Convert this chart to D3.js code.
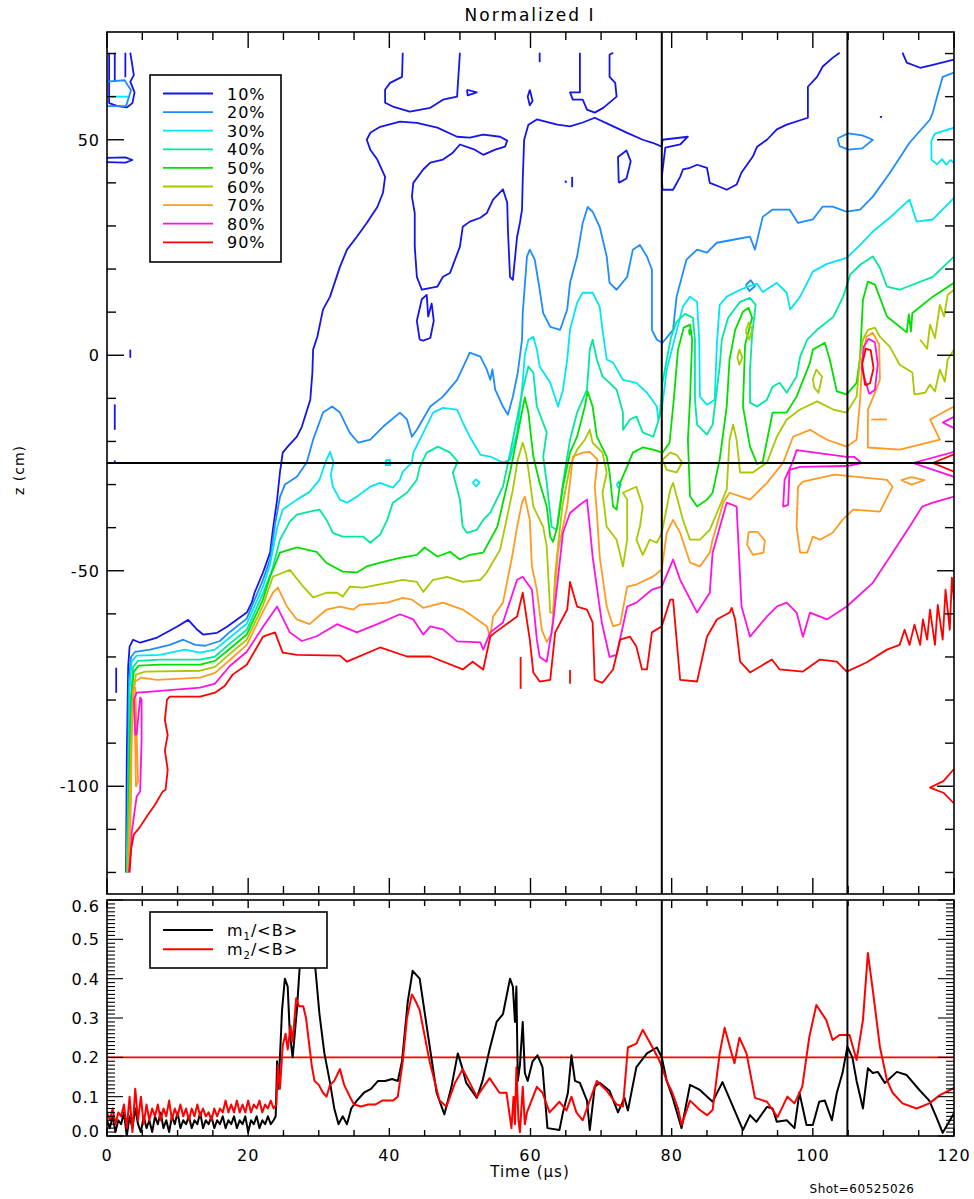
<!DOCTYPE html>
<html>
<head>
<meta charset="utf-8">
<script src="https://cdnjs.cloudflare.com/ajax/libs/d3/7.8.5/d3.min.js"></script>
<style>
body { margin: 0; background: #fff; }
text { font-family: "DejaVu Sans", sans-serif; fill: #000; }
</style>
</head>
<body>
<div id="chart"></div>
<script>
// ---- data ----
const levelLabels = ['10%', '20%', '30%', '40%', '50%', '60%', '70%', '80%', '90%']
const levelColors = ['#1414f0', '#1e8cff', '#00e6f5', '#00e89c', '#00e000', '#a8c800', '#ff9a22', '#ff12e0', '#ff0000']

const xTickLabels = [0, 20, 40, 60, 80, 100, 120]
const zTickLabels = [50, 0, -50, -100]
const mTickLabels = [0.0, 0.1, 0.2, 0.3, 0.4, 0.5, 0.6]

const markerTimes = [78.6, 104.9]   // vertical black lines (us)
const markerZ = -25                 // horizontal black line (cm)
const mThreshold = 0.2              // red line in lower panel

// contour polylines, [time (us), z (cm)]
const contour10 = [
  [[2.7,-120],[2.8,-93.9],[3.0,-72.3],[3.2,-67.6],[3.7,-66.0],[4.7,-66.7],[7.1,-65.5],[9.9,-63.0],[11.5,-61.4],[12.8,-63.7],[13.6,-64.8],[15.6,-64.4],[17.0,-63.0],[19.8,-59.7],[20.5,-57.4],[20.9,-55.1],[22.1,-50.4],[23.1,-45.8],[23.5,-40.5],[24.1,-33.5],[24.5,-27.2],[24.9,-22.6],[25.6,-21.2],[26.9,-18.9],[27.6,-16.6],[28.8,-10.3],[29.1,-4.0],[29.2,1.3],[29.8,4.3],[30.6,10.6],[31.6,13.6],[33.0,20.5],[34.0,24.5],[35.4,27.5],[36.8,30.7],[38.3,34.4],[39.1,37.7],[39.4,41.4],[38.3,45.4],[37.3,47.7],[36.8,50.0],[37.3,51.6],[38.7,53.0],[41.5,54.2],[43.9,53.9],[46.8,52.8],[49.6,50.7],[51.4,50.5],[53.3,51.2],[55.7,50.7],[56.7,49.8],[56.4,48.4],[55.0,47.7],[53.3,46.5],[52.1,47.7],[50.0,48.9],[49.0,47.0],[47.6,45.4],[45.8,44.7],[44.8,43.1],[43.4,40.0],[43.2,36.8],[43.6,33.0],[43.6,25.2],[43.9,18.2],[44.6,15.2],[46.8,15.9],[47.6,18.2],[48.6,19.1],[50.0,25.2],[50.4,29.8],[51.4,31.0],[52.9,31.9],[53.8,33.0],[54.7,36.1],[56.1,38.5],[56.7,35.4],[56.8,29.1],[57.1,18.2],[57.5,17.5],[58.1,27.5],[58.5,30.7],[58.8,33.8],[58.9,40.7],[59.1,50.0],[59.7,53.5],[60.9,54.7],[63.8,53.5],[65.6,53.1],[67.4,54.0],[69.1,55.1],[71.2,53.5],[73.7,51.6],[75.9,50.0],[77.3,49.3],[78.6,48.4],[78.7,50.0],[82.3,50.7],[81.2,48.9],[79.1,48.2],[78.6,41.4],[78.7,38.4],[80.2,38.4],[81.2,41.4],[81.6,43.1],[82.6,43.5],[83.6,44.2],[85.0,43.5],[85.4,40.0],[86.8,39.1],[87.8,38.4],[89.2,39.6],[89.9,42.4],[91.5,46.1],[92.1,48.4],[93.5,50.0],[94.9,52.4],[96.3,53.5],[99.3,55.1],[99.3,62.3],[100.6,64.6],[101.4,67.0],[102.8,69.0],[103.8,70.2]],
  [[41.9,70.2],[41.8,64.6],[40.1,63.2],[39.4,61.6],[39.4,58.6],[40.5,57.7],[42.9,56.5],[45.8,57.4],[47.6,59.3],[49.6,60.0],[50.0,70.2]],
  [[51.0,61.6],[52.4,61.0],[51.1,60.3],[51.0,61.6]],
  [[61.3,70.2],[61.3,68.0]],
  [[59.9,61.6],[60.3,59.0],[59.9,58.0],[59.6,60.0],[59.9,61.6]],
  [[67.0,70.2],[67.0,61.0],[65.6,61.0],[66.0,59.3],[67.4,59.3],[68.0,57.0],[69.1,56.3],[70.3,57.4],[72.2,60.0],[72.0,63.2],[71.2,64.6],[71.2,69.7],[71.7,70.2]],
  [[44.3,3.6],[43.9,8.0],[44.6,13.0],[45.3,14.0],[45.5,9.0],[46.0,12.0],[46.3,8.0],[45.8,4.0],[44.8,3.4],[44.3,3.6]],
  [[64.9,40.5],[65.1,40.0]],
  [[65.9,41.4],[65.9,39.0]],
  [[72.5,40.0],[72.4,46.0],[73.6,47.5],[74.2,45.0],[73.6,41.0],[72.5,40.0]],
  [[112.7,70.2],[113.3,67.9],[115.2,66.7],[117.0,67.4],[120,68.6]],
  [[109.5,55.3],[109.8,55.3]],
  [[0.3,70.2],[0.3,58.5],[1.5,57.8],[2.8,57.5],[3.6,58.5],[3.9,61.0],[3.3,63.5],[3.8,65.0],[3.3,70.2]],
  [[1.1,70.2],[1.1,63.5]],
  [[2.6,70.2],[2.6,64.5]],
  [[0,45.8],[2.6,45.9],[3.6,45.3],[2.6,44.7],[0,44.8]],
  [[1.3,-72.5],[1.3,-78.3]],
  [[1.1,-11.4],[1.1,-17.3]],
  [[3.3,1.3],[3.3,-0.6]],
  [[1.1,-24.4],[1.1,-25.2]]
]

const contour20 = [
  [[2.8,-120],[3.0,-93.9],[3.1,-75.3],[3.4,-70.0],[4.0,-68.8],[6.1,-68.3],[8.9,-67.2],[10.8,-66.0],[12.5,-67.2],[13.9,-67.4],[16.0,-66.3],[17.4,-64.2],[19.8,-61.1],[22.1,-52.1],[23.1,-47.4],[23.8,-39.3],[24.5,-32.9],[25.2,-30.0],[26.9,-28.2],[28.3,-24.9],[29.2,-19.6],[30.6,-13.3],[31.9,-11.9],[33.0,-13.3],[34.4,-18.0],[35.6,-20.3],[37.3,-19.6],[39.1,-16.6],[41.5,-13.3],[42.5,-14.9],[43.2,-18.9],[43.9,-17.3],[45.8,-11.9],[47.6,-9.6],[49.6,-5.7],[51.4,0.6],[52.9,-0.3],[53.8,-3.3],[54.3,-5.7],[54.6,-3.3],[55.0,-8.0],[56.1,-11.9],[56.8,-13.8],[57.5,-9.6],[58.2,-4.0],[58.8,3.6],[58.9,9.8],[59.5,22.9],[59.9,24.5],[60.6,22.2],[61.3,15.2],[61.8,9.8],[62.8,6.6],[64.2,5.9],[65.2,10.6],[65.6,16.8],[66.6,22.9],[67.4,30.7],[68.1,34.4],[68.8,33.3],[69.8,29.8],[70.8,22.9],[71.2,16.8],[72.2,15.2],[73.7,18.2],[74.5,24.5],[75.5,25.6],[76.5,22.9],[77.2,19.9],[77.2,5.9],[77.9,3.6],[78.7,2.9],[80.2,5.9],[80.7,13.6],[82.1,22.2],[83.6,24.5],[85.0,23.8],[86.4,26.1],[88.7,26.8],[91.1,27.5],[91.8,24.5],[92.9,32.1],[94.3,33.8],[96.7,33.8],[97.9,30.7],[100.0,31.5],[101.4,34.5],[102.8,34.5],[104.8,33.3],[106.7,33.8],[108.5,36.8],[110.9,42.3],[113.7,49.3],[116.6,54.7],[117.0,56.3],[117.6,60.0],[118.4,64.6],[120,65.6]],
  [[0,63.5],[2.5,63.8],[3.4,61.5],[2.7,57.8],[0,57.8]],
  [[103.5,50.3],[105.0,51.5],[107.0,51.0],[108.5,50.0],[107.0,48.0],[105.0,47.7],[103.8,48.5],[103.5,50.3]],
  [[90.5,16.3],[91.2,17.4],[91.8,16.0],[91.0,14.9],[90.5,16.3]]
]

const contour30 = [
  [[2.8,-120],[3.1,-93.9],[3.2,-77.6],[3.5,-71.1],[4.2,-69.7],[7.5,-69.5],[11.0,-68.3],[13.2,-69.0],[15.3,-68.3],[17.4,-65.5],[19.8,-62.3],[22.1,-53.7],[23.1,-48.6],[24.1,-40.0],[24.9,-35.8],[26.9,-33.5],[28.7,-31.7],[30.1,-28.9],[31.1,-24.2],[31.6,-22.4],[32.1,-24.9],[31.7,-27.7],[32.0,-30.5],[33.0,-33.5],[34.0,-34.2],[35.4,-32.8],[37.3,-30.5],[38.7,-29.6],[40.5,-30.7],[41.5,-28.9],[41.9,-27.0],[43.2,-24.9],[43.4,-22.6],[44.8,-18.0],[46.2,-13.3],[47.6,-12.2],[49.6,-12.6],[50.4,-15.6],[51.4,-18.9],[52.9,-23.1],[54.3,-23.5],[56.1,-24.9],[57.1,-24.2],[58.1,-17.9],[58.8,-8.0],[59.2,0.1],[59.7,3.6],[60.4,4.3],[60.9,1.3],[61.3,-2.6],[62.8,-6.4],[63.9,-11.9],[64.6,-8.0],[65.2,-1.0],[65.6,5.9],[66.6,12.2],[67.4,14.5],[68.8,14.5],[69.8,11.3],[70.2,5.9],[70.8,-1.0],[71.7,-1.7],[73.1,-5.7],[75.0,-6.4],[76.5,-8.7],[77.9,-11.9],[78.1,-14.9],[78.6,-12.6],[79.3,-3.3],[80.2,2.4],[81.6,11.3],[82.6,13.6],[83.6,12.4],[83.9,3.6],[84.0,-9.6],[85.0,-11.5],[86.1,-10.3],[86.4,2.4],[86.8,11.7],[87.8,13.6],[89.7,15.2],[91.1,16.1],[92.1,16.6],[92.9,14.7],[94.9,16.8],[96.3,14.5],[96.8,10.6],[98.2,13.6],[100.0,19.4],[102.0,21.2],[104.8,22.6],[106.7,25.6],[108.5,28.7],[110.9,31.9],[113.7,36.1],[114.7,31.0],[117.0,31.5],[120,36.5]],
  [[120,52.8],[117.3,51.4],[116.8,49.8],[116.8,45.4],[117.6,44.3],[118.3,45.5],[118.9,44.2],[119.5,45.3],[120,44.6]],
  [[0,60.0],[3.0,60.0]],
  [[51.8,-29.5],[52.3,-28.8],[52.8,-29.5],[52.3,-30.4],[51.8,-29.5]],
  [[39.5,-24.3],[40.1,-24.3],[40.1,-25.5],[39.5,-25.5],[39.5,-24.3]],
  [[72.2,-30.0],[72.5,-29.3],[72.8,-30.0],[72.5,-30.8],[72.2,-30.0]]
]

const contour40 = [
  [[2.9,-120],[3.1,-93.9],[3.4,-79.9],[3.7,-72.3],[4.4,-70.9],[7.5,-70.6],[13.2,-70.6],[15.3,-69.9],[17.4,-66.9],[19.8,-63.7],[22.1,-55.3],[23.4,-49.8],[24.5,-42.8],[25.9,-38.6],[26.9,-37.0],[28.7,-36.3],[30.1,-35.8],[31.1,-38.2],[32.0,-41.2],[33.4,-42.1],[36.3,-42.1],[37.3,-43.5],[38.7,-41.6],[39.7,-38.2],[40.5,-34.2],[42.5,-31.9],[43.9,-28.9],[44.3,-25.9],[45.3,-22.6],[46.9,-21.2],[48.6,-22.6],[49.7,-24.7],[49.0,-27.2],[50.0,-33.5],[50.4,-39.8],[51.0,-41.2],[52.4,-40.5],[53.3,-38.2],[54.3,-36.5],[56.1,-30.5],[57.5,-19.6],[58.9,-8.0],[59.7,-2.6],[60.4,-4.0],[60.9,-11.9],[62.3,-17.9],[61.8,-23.5],[62.3,-29.6],[63.0,-39.8],[63.7,-40.5],[64.6,-29.6],[65.6,-19.6],[66.6,-13.3],[68.0,-8.0],[68.4,1.3],[68.8,3.6],[69.4,-1.0],[70.2,-4.9],[71.2,-6.4],[72.2,-8.0],[73.1,-13.3],[73.1,-17.3],[74.1,-14.9],[75.0,-14.2],[75.9,-17.9],[77.4,-18.9],[78.3,-14.2],[78.7,-6.4],[79.3,-1.0],[79.9,4.1],[80.7,7.8],[81.9,9.6],[83.0,8.7],[83.3,3.6],[83.3,-10.3],[83.6,-16.1],[85.0,-18.4],[85.8,-16.1],[86.4,-8.0],[86.8,-2.6],[87.1,3.6],[88.0,8.7],[89.7,12.4],[91.1,13.3],[91.9,11.7],[91.4,4.8],[91.1,-3.3],[91.1,-11.0],[92.1,-11.9],[93.5,-10.3],[94.3,-7.3],[95.3,-6.4],[96.3,-8.7],[97.7,-4.9],[98.2,-0.3],[99.2,3.6],[100.6,5.9],[102.9,8.9],[104.3,13.6],[105.3,18.7],[106.7,21.0],[108.5,22.9],[109.5,20.3],[110.5,15.9],[112.3,15.2],[117.0,18.2],[120,22.9]]
]

const contour50 = [
  [[2.9,-120],[3.2,-93.9],[3.4,-79.9],[3.8,-73.4],[4.5,-72.0],[7.5,-71.8],[13.2,-71.8],[15.3,-70.9],[17.4,-68.1],[19.8,-64.8],[22.1,-56.7],[23.1,-51.4],[24.5,-45.8],[26.9,-44.6],[29.7,-45.6],[31.1,-48.2],[33.4,-50.2],[35.4,-50.4],[36.8,-49.0],[38.7,-48.1],[41.5,-47.0],[43.9,-46.3],[45.0,-44.6],[46.8,-46.7],[48.6,-45.6],[50.0,-47.4],[51.4,-46.3],[53.3,-45.8],[55.3,-39.8],[57.1,-27.2],[58.5,-15.6],[59.2,-9.8],[59.7,-13.3],[60.4,-23.5],[61.3,-29.6],[62.3,-35.1],[62.8,-42.1],[63.2,-43.3],[63.8,-39.8],[64.6,-30.5],[65.6,-22.6],[66.6,-18.9],[67.7,-11.9],[68.1,-8.4],[68.8,-11.9],[69.4,-18.9],[70.8,-23.5],[71.2,-27.2],[71.7,-35.1],[72.2,-35.8],[72.7,-29.6],[73.7,-25.8],[74.5,-22.6],[75.9,-21.4],[77.4,-21.9],[78.7,-22.6],[79.7,-20.3],[80.3,-10.3],[80.9,1.3],[81.7,6.4],[82.6,7.1],[82.9,3.6],[82.6,-10.3],[82.3,-19.6],[82.6,-32.7],[83.6,-35.1],[85.0,-33.5],[85.8,-31.9],[86.8,-24.2],[87.8,-11.9],[88.2,-1.0],[89.0,5.9],[90.1,10.1],[90.9,11.0],[91.4,8.7],[90.4,2.4],[90.1,-11.9],[91.1,-21.2],[92.1,-25.2],[92.9,-24.7],[93.9,-16.6],[94.3,-13.3],[96.3,-13.3],[97.7,-9.6],[99.6,-1.7],[100.0,1.3],[101.7,2.9],[102.4,-1.0],[103.4,-8.4],[104.8,-9.1],[106.2,-6.4],[106.7,-0.3],[107.1,12.9],[107.8,17.1],[108.8,16.4],[110.5,9.0],[113.3,5.3],[113.6,9.5],[113.9,5.5],[114.1,9.8],[117.0,13.6],[120,16.8]],
  [[82.4,5.6],[82.6,6.0],[82.8,5.4],[82.6,4.8],[82.4,5.6]]
]

const contour60 = [
  [[2.9,-120],[3.2,-103.1],[3.5,-86.9],[3.8,-77.6],[4.1,-74.1],[5.4,-73.4],[13.2,-73.2],[15.3,-72.3],[17.4,-69.3],[19.8,-66.0],[22.1,-58.1],[23.5,-51.4],[25.9,-49.8],[27.8,-53.7],[29.2,-56.2],[31.1,-55.1],[32.6,-55.1],[33.4,-56.0],[34.4,-53.7],[36.3,-53.9],[39.7,-52.8],[41.9,-52.1],[43.9,-52.6],[44.8,-54.9],[46.2,-52.1],[48.2,-51.4],[50.4,-52.6],[52.9,-52.1],[53.8,-50.4],[55.7,-45.1],[57.5,-31.2],[58.2,-24.2],[58.9,-20.3],[59.4,-23.1],[59.9,-28.9],[60.4,-35.1],[61.8,-39.8],[62.3,-44.4],[62.8,-59.7],[63.2,-59.7],[63.5,-50.4],[64.5,-35.1],[65.6,-25.8],[66.6,-21.9],[67.7,-19.6],[68.4,-17.3],[68.8,-20.3],[70.2,-22.6],[70.8,-27.2],[70.2,-31.9],[70.8,-39.8],[72.2,-42.8],[73.1,-49.0],[73.7,-42.8],[73.7,-33.5],[73.1,-31.9],[75.0,-30.5],[75.9,-35.1],[75.5,-39.8],[75.0,-42.8],[75.9,-46.3],[76.9,-42.8],[77.9,-43.5],[78.6,-41.2],[79.8,-31.2],[80.2,-29.6],[81.6,-38.2],[82.6,-42.8],[84.0,-42.8],[85.4,-40.5],[86.4,-36.6],[87.8,-31.2],[88.2,-19.6],[88.7,-16.1],[89.2,-19.6],[89.7,-27.2],[91.5,-27.2],[93.5,-24.9],[94.9,-18.9],[96.3,-14.9],[98.2,-12.6],[100.6,-10.7],[102.9,-12.6],[104.8,-13.3],[106.2,-9.6],[106.7,-0.3],[107.1,3.6],[107.8,5.9],[108.8,6.4],[109.5,4.3],[110.9,2.0],[112.3,-2.2],[114.1,-4.0],[114.4,-9.1],[115.9,-8.7],[116.6,-6.8],[117.3,-8.4],[118.0,-3.3],[118.7,-6.1],[119.1,-1.0],[120,1.3]],
  [[115.2,3.6],[116.2,1.5],[116.6,7.1],[117.3,4.0],[118.0,11.7],[118.6,9.0],[119.1,14.0],[120,15.2]],
  [[78.7,-24.2],[79.8,-22.6],[80.7,-23.1],[81.5,-24.9],[80.7,-27.2],[79.3,-26.6],[78.7,-24.2]],
  [[90.5,5.5],[90.9,7.6],[91.4,6.0],[91.0,3.6],[90.5,5.5]],
  [[89.3,-0.5],[89.6,1.3],[90.0,-0.5],[89.6,-2.2],[89.3,-0.5]],
  [[100.0,-5.5],[100.5,-3.3],[101.3,-5.0],[100.8,-8.7],[100.2,-7.5],[100.0,-5.5]]
]

const contour70 = [
  [[3.1,-120],[3.4,-103.1],[3.5,-89.2],[3.7,-77.6],[4.0,-75.7],[4.8,-74.8],[7.1,-75.3],[13.2,-74.8],[15.3,-73.7],[17.4,-70.7],[19.8,-67.2],[22.1,-59.5],[23.5,-55.1],[24.2,-53.9],[25.5,-58.3],[26.9,-61.3],[28.7,-62.4],[31.1,-59.0],[33.0,-58.3],[34.9,-59.0],[35.8,-57.9],[39.7,-57.4],[41.9,-56.3],[43.2,-56.7],[44.8,-58.6],[47.6,-57.4],[50.4,-59.0],[51.4,-60.1],[53.8,-62.9],[54.3,-65.3],[54.7,-60.6],[56.1,-57.4],[57.4,-46.7],[58.1,-39.8],[58.8,-34.2],[59.2,-32.8],[59.9,-38.2],[60.2,-49.0],[60.9,-54.4],[61.6,-63.7],[62.3,-66.5],[63.0,-64.6],[63.9,-45.4],[65.2,-35.1],[66.0,-23.5],[67.4,-22.6],[68.4,-22.4],[69.5,-24.2],[69.1,-30.5],[69.4,-36.5],[69.8,-46.7],[70.8,-58.3],[71.7,-62.9],[72.7,-62.4],[73.7,-53.7],[75.0,-53.2],[77.4,-51.3],[78.6,-49.7],[79.3,-41.2],[80.2,-38.2],[81.2,-41.2],[82.6,-48.1],[84.0,-49.0],[85.4,-45.8],[85.8,-42.8],[87.3,-34.2],[88.2,-31.9],[91.1,-33.5],[93.5,-29.6],[95.8,-24.9],[97.2,-18.9],[99.6,-17.3],[102.0,-19.6],[104.8,-21.2],[106.2,-19.6],[106.7,-10.3],[107.0,-1.0],[107.6,4.3],[108.5,5.2],[109.4,2.5],[109.5,-5.7],[108.4,-10.3],[107.8,-12.6],[107.8,-21.4],[112.3,-21.9],[118.0,-19.6],[116.6,-14.9],[120,-11.9]],
  [[98.6,-29.3],[103.1,-27.7],[110.5,-28.9],[111.3,-30.5],[109.5,-36.3],[105.7,-35.8],[104.2,-38.2],[102.8,-41.2],[101.0,-42.8],[100.0,-42.1],[99.2,-45.8],[98.2,-45.8],[97.7,-39.8],[97.9,-30.5],[98.6,-29.3]],
  [[112.5,-29.0],[114.0,-28.3],[115.8,-29.0],[114.0,-30.0],[112.5,-29.0]],
  [[90.9,-41.0],[90.7,-44.0],[91.5,-46.3],[93.0,-45.8],[93.2,-43.0],[92.2,-41.0],[90.9,-41.0]],
  [[108.3,-14.9],[110.5,-14.9]],
  [[4.0,-77.0],[4.4,-99.0],[4.1,-100.0],[3.9,-80.0]]
]

const contour80 = [
  [[3.1,-120],[3.4,-114.7],[3.5,-110.7],[4.2,-102.4],[4.7,-101.2],[4.9,-89.2],[4.9,-79.9],[4.7,-79.4],[4.2,-88.0],[4.0,-88.0],[3.8,-79.9],[4.2,-78.3],[5.8,-78.1],[13.2,-77.1],[15.3,-76.2],[17.4,-72.1],[19.8,-68.8],[22.1,-63.0],[24.1,-58.3],[25.9,-64.3],[27.6,-66.3],[29.7,-65.2],[32.6,-62.4],[35.4,-64.3],[38.3,-62.4],[41.5,-60.1],[43.4,-61.3],[44.8,-64.8],[45.8,-62.9],[47.6,-63.6],[49.6,-66.4],[52.9,-66.6],[53.3,-68.3],[54.3,-64.3],[56.1,-62.0],[58.1,-52.1],[58.9,-51.4],[60.2,-54.4],[60.9,-66.0],[61.3,-70.0],[62.3,-71.1],[63.2,-62.0],[64.6,-41.2],[65.6,-36.6],[67.0,-34.7],[68.0,-33.5],[68.4,-39.8],[68.8,-46.7],[70.1,-62.0],[71.2,-70.0],[72.2,-69.5],[73.7,-58.3],[75.0,-57.4],[77.2,-54.4],[78.6,-53.7],[80.2,-47.4],[81.2,-52.1],[83.6,-59.7],[85.4,-55.1],[85.8,-45.8],[87.8,-34.2],[89.2,-35.1],[89.9,-58.3],[91.1,-65.3],[93.5,-60.6],[94.9,-58.3],[96.3,-57.4],[97.7,-59.7],[98.6,-65.3],[99.6,-59.7],[102.0,-61.3],[104.8,-58.3],[108.5,-52.8],[111.3,-45.8],[113.7,-39.8],[115.5,-35.1],[117.0,-34.2],[120,-32.8]],
  [[104.8,-23.6],[97.7,-22.0],[97.2,-24.5],[96.0,-28.9],[95.8,-35.1],[96.5,-34.7],[96.7,-26.6],[98.2,-25.9],[104.8,-25.7],[106.9,-25.0],[105.9,-23.6],[104.8,-23.6]],
  [[120,-22.4],[114.2,-25.0],[120,-28.2]],
  [[120,-14.3],[118.4,-15.6],[120,-16.9]],
  [[108.0,-9.0],[106.9,-3.0],[107.2,2.0],[107.9,3.8],[108.8,3.0],[109.2,-2.0],[108.8,-8.0],[108.0,-9.0]]
]

const contour90 = [
  [[3.2,-120],[3.4,-114.7],[3.8,-111.2],[4.6,-109.6],[5.8,-106.6],[6.8,-104.3],[7.9,-101.2],[8.3,-100.8],[8.6,-96.2],[8.2,-91.6],[8.6,-88.1],[8.2,-84.6],[8.5,-79.9],[8.9,-79.2],[13.2,-79.2],[15.3,-78.3],[16.7,-76.7],[17.8,-74.1],[19.8,-71.8],[22.1,-65.3],[23.8,-64.3],[24.9,-69.0],[26.9,-69.5],[33.0,-69.7],[34.0,-71.1],[38.7,-67.8],[42.5,-69.9],[45.8,-69.9],[50.4,-72.9],[51.8,-71.1],[53.3,-72.9],[54.3,-65.3],[55.0,-64.3],[58.1,-60.6],[58.9,-55.1],[59.9,-66.0],[60.4,-73.6],[61.3,-75.7],[62.8,-75.3],[63.5,-64.3],[65.2,-59.0],[65.6,-52.6],[66.6,-58.3],[68.0,-59.0],[68.8,-62.0],[69.1,-75.3],[70.2,-76.0],[71.7,-72.9],[72.7,-66.0],[74.1,-65.3],[75.0,-67.6],[75.8,-72.9],[76.5,-72.9],[77.2,-64.3],[78.6,-62.9],[79.8,-56.7],[80.2,-56.7],[81.2,-75.3],[83.6,-75.7],[85.0,-65.3],[86.4,-61.3],[88.2,-59.7],[88.5,-58.6],[89.0,-61.3],[89.7,-71.1],[91.1,-73.6],[94.2,-70.6],[95.3,-72.9],[98.6,-73.4],[101.0,-70.6],[103.4,-71.1],[104.8,-73.4],[107.6,-71.3],[110.5,-68.3],[112.3,-67.2],[113.0,-63.7],[113.7,-67.2],[114.4,-62.5],[115.2,-67.2],[115.6,-61.3],[116.2,-66.0],[116.6,-59.0],[117.3,-67.2],[117.7,-57.9],[118.4,-66.0],[118.8,-54.4],[119.4,-63.7],[119.7,-51.6],[120,-56.7]],
  [[58.6,-70.0],[58.6,-77.4]],
  [[65.6,-73.0],[65.6,-76.2]],
  [[120,-96.0],[118.5,-98.8],[116.6,-100.3],[118.5,-101.5],[120,-104.0]],
  [[120,-23.0],[117.0,-25.0],[120,-27.0]],
  [[107.4,-7.0],[107.0,-2.0],[107.5,1.5],[108.2,1.2],[108.6,-3.0],[108.1,-6.5],[107.4,-7.0]]
]

// lower panel series, [time (us), value]
const m1Series = [[0,0.04],[0.4,0.02],[0.8,0.05],[1.2,0.01],[1.6,0.04],[2.0,0.03],[2.4,0.06],[2.8,0.0],[3.2,0.05],[3.6,0.02],[4.0,0.07],[4.4,0.03],[4.8,0.01],[5.2,0.05],[5.6,0.02],[6.0,0.04],[6.4,0.01],[6.8,0.05],[7.2,0.03],[7.6,0.06],[8.0,0.02],[8.4,0.04],[8.8,0.01],[9.2,0.05],[9.6,0.03],[10.0,0.06],[10.4,0.02],[10.8,0.04],[11.2,0.03],[11.6,0.05],[12.0,0.02],[12.4,0.04],[12.8,0.03],[13.2,0.06],[13.6,0.02],[14.0,0.04],[14.4,0.03],[14.8,0.05],[15.2,0.02],[15.6,0.04],[16.0,0.03],[16.4,0.05],[16.8,0.02],[17.2,0.04],[17.6,0.03],[18.0,0.05],[18.4,0.02],[18.8,0.04],[19.2,0.03],[19.6,0.05],[20.0,0.01],[20.4,0.04],[20.8,0.03],[21.2,0.05],[21.6,0.02],[22.0,0.04],[22.4,0.03],[22.8,0.05],[23.2,0.03],[23.6,0.04],
  [23.9,0.05],[24.1,0.19],[24.3,0.12],[24.8,0.32],[25.2,0.40],[25.6,0.38],[25.9,0.26],[26.3,0.20],[26.9,0.32],[27.3,0.43],[27.8,0.46],[28.6,0.47],[29.4,0.45],[30.1,0.31],[30.8,0.21],[31.6,0.135],[32.2,0.07],[32.8,0.03],[33.4,0.05],[34.0,0.03],[34.6,0.07],[35.4,0.09],[36.4,0.11],[37.4,0.12],[38.4,0.14],[39.4,0.14],[40.4,0.145],[41.2,0.14],[41.8,0.19],[42.6,0.34],[43.3,0.42],[44.3,0.40],[45.7,0.23],[46.7,0.11],[47.8,0.055],[48.8,0.125],[49.7,0.21],[50.3,0.175],[50.9,0.135],[52.4,0.097],[53.2,0.14],[54.2,0.22],[55.2,0.29],[56.1,0.31],[57.1,0.40],[57.5,0.38],[57.8,0.29],[58.0,0.38],[58.2,0.14],[58.5,0.18],[58.9,0.29],[59.2,0.16],[59.6,0.14],[60.3,0.19],[61.0,0.205],[61.7,0.175],[62.4,0.02],[64.1,0.015],[64.6,0.06],[65.3,0.11],[65.8,0.205],[66.3,0.14],[67.0,0.135],[68.0,0.09],[68.4,0.015],[69.1,0.125],[69.8,0.135],[71.2,0.115],[72.4,0.06],[73.3,0.097],[73.8,0.065],[75.0,0.175],[76.5,0.21],[77.9,0.225],[78.6,0.2],[79.3,0.14],[80.1,0.10],[81.4,0.02],[82.6,0.13],[84.0,0.117],[85.8,0.087],[87.2,0.137],[89.2,0.053],[90.1,0.015],[91.1,0.053],[92.0,0.036],[93.5,0.074],[94.3,0.07],[94.9,0.036],[96.3,0.04],[97.4,0.02],[98.1,0.11],[99.1,0.028],[100.0,0.028],[100.9,0.087],[101.7,0.09],[102.7,0.04],[103.4,0.11],[104.2,0.16],[104.9,0.227],[105.6,0.2],[106.2,0.14],[107.1,0.07],[107.8,0.172],[108.5,0.16],[109.2,0.163],[110.2,0.135],[111.9,0.163],[113.3,0.155],[115.1,0.117],[116.5,0.09],[117.5,0.048],[118.4,0.008],[120,0.058]]

const m2Series = [[0,0.06],[0.4,0.04],[0.8,0.07],[1.2,0.03],[1.6,0.06],[2.0,0.05],[2.4,0.08],[2.8,0.02],[3.2,0.10],[3.6,0.01],[4.0,0.12],[4.4,0.04],[4.8,0.10],[5.2,0.03],[5.6,0.08],[6.0,0.04],[6.4,0.07],[6.8,0.05],[7.2,0.08],[7.6,0.04],[8.0,0.07],[8.4,0.05],[8.8,0.09],[9.2,0.04],[9.6,0.07],[10.0,0.05],[10.4,0.08],[10.8,0.05],[11.2,0.07],[11.6,0.04],[12.0,0.07],[12.4,0.05],[12.8,0.08],[13.2,0.05],[13.6,0.07],[14.0,0.05],[14.4,0.06],[14.8,0.04],[15.2,0.07],[15.6,0.05],[16.0,0.07],[16.4,0.06],[16.8,0.09],[17.2,0.06],[17.6,0.08],[18.0,0.06],[18.4,0.09],[18.8,0.06],[19.2,0.08],[19.6,0.06],[20.0,0.09],[20.4,0.06],[20.8,0.08],[21.2,0.07],[21.6,0.09],[22.0,0.06],[22.4,0.08],[22.8,0.07],[23.2,0.09],[23.6,0.07],
  [24.0,0.08],[24.2,0.18],[24.5,0.12],[24.9,0.23],[25.3,0.26],[25.6,0.22],[26.0,0.28],[26.3,0.24],[26.8,0.35],[27.2,0.33],[27.8,0.33],[28.2,0.30],[28.6,0.24],[29.0,0.18],[29.4,0.14],[30.0,0.13],[30.6,0.11],[31.1,0.10],[31.6,0.13],[32.2,0.14],[33.0,0.17],[33.6,0.13],[34.4,0.10],[35.0,0.08],[36.0,0.075],[37.0,0.08],[38.0,0.08],[39.0,0.09],[40.5,0.09],[41.2,0.10],[41.9,0.19],[42.5,0.30],[43.2,0.36],[43.8,0.34],[44.3,0.32],[45.7,0.19],[47.1,0.09],[48.1,0.075],[49.3,0.135],[50.4,0.17],[51.4,0.135],[52.4,0.10],[54.2,0.147],[55.6,0.11],[56.6,0.11],[57.3,0.02],[57.6,0.10],[57.8,0.03],[58.0,0.175],[58.3,0.04],[58.5,0.01],[58.9,0.125],[59.2,0.03],[59.5,0.06],[60.9,0.125],[61.7,0.11],[62.7,0.06],[64.1,0.087],[65.1,0.065],[65.8,0.10],[66.5,0.06],[67.4,0.04],[69.4,0.14],[70.8,0.115],[72.2,0.08],[73.1,0.075],[73.8,0.225],[75.0,0.235],[75.9,0.27],[77.3,0.225],[78.3,0.19],[79.3,0.14],[80.1,0.11],[80.9,0.07],[81.4,0.028],[82.6,0.09],[84.0,0.066],[85.0,0.053],[85.8,0.066],[86.8,0.21],[87.5,0.275],[88.5,0.21],[88.9,0.185],[89.6,0.25],[90.6,0.21],[91.8,0.097],[93.5,0.087],[95.0,0.048],[96.4,0.10],[97.4,0.083],[98.5,0.125],[99.5,0.252],[100.5,0.333],[101.9,0.295],[102.8,0.244],[103.8,0.257],[105.2,0.257],[106.2,0.193],[107.1,0.295],[107.8,0.465],[108.5,0.37],[109.5,0.227],[110.5,0.142],[111.3,0.11],[112.7,0.083],[114.7,0.07],[116.5,0.083],[118.0,0.104],[120,0.122]]

// ---- drawing ----
const W = 974, H = 1199
const svg = d3.select('#chart').append('svg').attr('width', W).attr('height', H)

const x = d3.scaleLinear().domain([0, 120]).range([107, 954])
const y = d3.scaleLinear().domain([-125, 75]).range([894, 32])
const y2 = d3.scaleLinear().domain([0, 0.6]).range([1136, 900])

const defs = svg.append('defs')
defs.append('clipPath').attr('id', 'clipTop').append('rect')
  .attr('x', 107).attr('y', 32).attr('width', 847).attr('height', 862)
defs.append('clipPath').attr('id', 'clipBot').append('rect')
  .attr('x', 107).attr('y', 900).attr('width', 847).attr('height', 236)

const lineTop = d3.line().x(d => x(d[0])).y(d => y(d[1]))
const lineBot = d3.line().x(d => x(d[0])).y(d => y2(d[1]))

// top panel contours
let gTop = svg.append('g').attr('clip-path', 'url(#clipTop)')
const contourSets = [contour10, contour20, contour30, contour40, contour50, contour60, contour70, contour80, contour90]
contourSets.forEach(function(set, i) {
  set.forEach(function(pts) {
    gTop.append('path')
      .attr('d', lineTop(pts))
      .attr('fill', 'none')
      .attr('stroke', levelColors[i])
      .attr('stroke-width', 1.8)
      .attr('stroke-linejoin', 'round')
  })
})

// marker lines top
markerTimes.forEach(function(t) {
  gTop.append('line').attr('x1', x(t)).attr('x2', x(t)).attr('y1', 32).attr('y2', 894)
    .attr('stroke', '#000').attr('stroke-width', 2)
})
gTop.append('line').attr('x1', 107).attr('x2', 954).attr('y1', y(markerZ)).attr('y2', y(markerZ))
  .attr('stroke', '#000').attr('stroke-width', 2)

// bottom panel series
let gBot = svg.append('g').attr('clip-path', 'url(#clipBot)')
gBot.append('line').attr('x1', 107).attr('x2', 954).attr('y1', y2(mThreshold)).attr('y2', y2(mThreshold))
  .attr('stroke', '#ff0000').attr('stroke-width', 1.6)
gBot.append('path').attr('d', lineBot(m1Series)).attr('fill', 'none')
  .attr('stroke', '#000').attr('stroke-width', 2).attr('stroke-linejoin', 'round')
gBot.append('path').attr('d', lineBot(m2Series)).attr('fill', 'none')
  .attr('stroke', '#ff0000').attr('stroke-width', 2).attr('stroke-linejoin', 'round')
markerTimes.forEach(function(t) {
  gBot.append('line').attr('x1', x(t)).attr('x2', x(t)).attr('y1', 900).attr('y2', 1136)
    .attr('stroke', '#000').attr('stroke-width', 2)
})

// frames
svg.append('rect').attr('x', 107).attr('y', 32).attr('width', 847).attr('height', 862)
  .attr('fill', 'none').attr('stroke', '#000').attr('stroke-width', 1.6)
svg.append('rect').attr('x', 107).attr('y', 900).attr('width', 847).attr('height', 236)
  .attr('fill', 'none').attr('stroke', '#000').attr('stroke-width', 1.6)

// ticks
let gTicks = svg.append('g').attr('stroke', '#000').attr('stroke-width', 1.4)
d3.range(0, 121, 5).forEach(function(t) {
  let major = t % 20 === 0
  let L = major ? 16 : 8
  gTicks.append('line').attr('x1', x(t)).attr('x2', x(t)).attr('y1', 894).attr('y2', 894 - L)
  gTicks.append('line').attr('x1', x(t)).attr('x2', x(t)).attr('y1', 32).attr('y2', 32 + L)
  let L2 = major ? 8 : 6
  gTicks.append('line').attr('x1', x(t)).attr('x2', x(t)).attr('y1', 1136).attr('y2', 1136 - L2)
  gTicks.append('line').attr('x1', x(t)).attr('x2', x(t)).attr('y1', 900).attr('y2', 900 + L2)
})
d3.range(-120, 71, 10).forEach(function(z) {
  let L = z % 50 === 0 ? 17 : 9
  gTicks.append('line').attr('x1', 107).attr('x2', 107 + L).attr('y1', y(z)).attr('y2', y(z))
  gTicks.append('line').attr('x1', 954).attr('x2', 954 - L).attr('y1', y(z)).attr('y2', y(z))
})
d3.range(0, 61, 1).forEach(function(k) {
  let L = k % 10 === 0 ? 16 : 8
  let v = k / 100
  gTicks.append('line').attr('x1', 107).attr('x2', 107 + L).attr('y1', y2(v)).attr('y2', y2(v)).attr('stroke-width', 1.1)
  gTicks.append('line').attr('x1', 954).attr('x2', 954 - L).attr('y1', y2(v)).attr('y2', y2(v)).attr('stroke-width', 1.1)
})

// tick labels
xTickLabels.forEach(function(t) {
  svg.append('text').attr('x', x(t)).attr('y', 1161).attr('text-anchor', 'middle')
    .attr('font-size', 16).attr('letter-spacing', 1).text(t)
})
zTickLabels.forEach(function(z) {
  svg.append('text').attr('x', 100).attr('y', y(z) + 6).attr('text-anchor', 'end')
    .attr('font-size', 16).attr('letter-spacing', 1).text(z)
})
mTickLabels.forEach(function(v) {
  let off = 6
  if (v === 0) off = 1
  if (v === 0.6) off = 12
  svg.append('text').attr('x', 100).attr('y', y2(v) + off).attr('text-anchor', 'end')
    .attr('font-size', 16).attr('letter-spacing', 1).text(v.toFixed(1))
})

// titles
svg.append('text').attr('x', 530).attr('y', 21).attr('text-anchor', 'middle')
  .attr('font-size', 17).attr('letter-spacing', 2).text('Normalized I')
svg.append('text').attr('transform', 'translate(24,470) rotate(-90)').attr('text-anchor', 'middle')
  .attr('font-size', 14).attr('letter-spacing', 1).text('z (cm)')
svg.append('text').attr('x', 530).attr('y', 1177).attr('text-anchor', 'middle')
  .attr('font-size', 15).attr('letter-spacing', 1).text('Time (\u03bcs)')
svg.append('text').attr('x', 862).attr('y', 1193).attr('text-anchor', 'middle')
  .attr('font-size', 12).attr('letter-spacing', 0.5).text('Shot=60525026')

// legend top
let legTop = svg.append('g')
legTop.append('rect').attr('x', 150).attr('y', 75).attr('width', 131).attr('height', 187)
  .attr('fill', '#fff').attr('stroke', '#000').attr('stroke-width', 1.6)
levelLabels.forEach(function(lab, i) {
  let ly = 93.5 + i * 18.6
  legTop.append('line').attr('x1', 163).attr('x2', 213).attr('y1', ly).attr('y2', ly)
    .attr('stroke', levelColors[i]).attr('stroke-width', 1.8)
  legTop.append('text').attr('x', 227).attr('y', ly + 6).attr('font-size', 16)
    .attr('letter-spacing', 1).text(lab)
})

// legend bottom
let legBot = svg.append('g')
legBot.append('rect').attr('x', 150).attr('y', 912).attr('width', 177).attr('height', 56)
  .attr('fill', '#fff').attr('stroke', '#000').attr('stroke-width', 1.6)
const mLegend = [['1', '#000'], ['2', '#ff0000']]
mLegend.forEach(function(d, i) {
  let ly = 930 + i * 19.3
  legBot.append('line').attr('x1', 163).attr('x2', 213).attr('y1', ly).attr('y2', ly)
    .attr('stroke', d[1]).attr('stroke-width', 2)
  let t = legBot.append('text').attr('x', 227).attr('y', ly + 6).attr('font-size', 16).attr('letter-spacing', 1)
  t.append('tspan').text('m')
  t.append('tspan').attr('font-size', 10).attr('dy', 4).text(d[0])
  t.append('tspan').attr('dy', -4).text('/<B>')
})
</script>
</body>
</html>
